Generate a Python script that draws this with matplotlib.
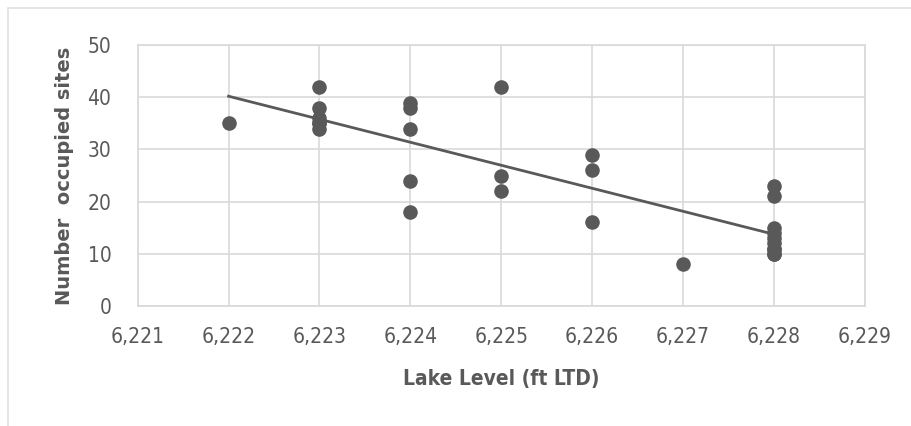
import numpy as np
import matplotlib.pyplot as plt
from matplotlib.patches import Rectangle

plt.rcParams['font.family'] = ['DejaVu Sans']
plt.rcParams['font.stretch'] = 'condensed'

# lake level (ft LTD) and number of occupied sites
lakeLevel = [6222,
             6223, 6223, 6223, 6223, 6223, 6223,
             6224, 6224, 6224, 6224, 6224,
             6225, 6225, 6225,
             6226, 6226, 6226,
             6227,
             6228, 6228, 6228, 6228, 6228, 6228, 6228, 6228, 6228, 6228]
sites = [35,
         42, 38, 36, 35, 35, 34,
         39, 38, 34, 24, 18,
         42, 25, 22,
         29, 26, 16,
         8,
         23, 21, 15, 14, 13, 12, 11, 11, 10, 10]

xTicks = [6221, 6222, 6223, 6224, 6225, 6226, 6227, 6228, 6229]
yTicks = [0, 10, 20, 30, 40, 50]

koyu = "#595959"
izgara = "#d9d9d9"

fig = plt.figure(figsize=(9.12, 4.26), dpi=100)
ax = fig.add_axes([0.151, 0.282, 0.797, 0.612])

ax.scatter(lakeLevel, sites, s=110, color=koyu, zorder=3, linewidths=0)

# linear trendline
egim, kesim = np.polyfit(lakeLevel, sites, 1)
xs = np.array([min(lakeLevel), max(lakeLevel)])
ax.plot(xs, egim * xs + kesim, color=koyu, linewidth=2.0, zorder=4)

ax.set_xlim(6221, 6229)
ax.set_ylim(0, 50)
ax.set_xticks(xTicks)
ax.set_xticklabels(["{:,}".format(v) for v in xTicks])
ax.set_yticks(yTicks)
ax.grid(True, color=izgara, linewidth=1.2)
ax.set_axisbelow(True)
for s in ax.spines.values():
    s.set_color(izgara)
    s.set_linewidth(1.2)
ax.tick_params(length=0, colors=koyu, labelsize=15)
ax.tick_params(axis="x", pad=15)
ax.tick_params(axis="y", pad=19)

ax.set_xlabel("Lake Level (ft LTD)", fontsize=15, fontweight="bold", color=koyu, labelpad=16)
ax.set_ylabel("Number  occupied sites", fontsize=14, fontweight="bold", color=koyu,
              fontstretch="normal", labelpad=10)

fig.patches.append(Rectangle((8 / 912, -0.1), 1.1, 1 - 8 / 426 + 0.1, transform=fig.transFigure,
                             fill=False, edgecolor="#e0e0e0", linewidth=1.2))

fig.savefig("out.png", dpi=100)
